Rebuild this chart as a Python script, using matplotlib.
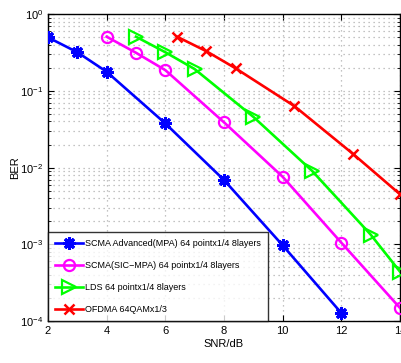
import matplotlib
matplotlib.use("Agg")
import matplotlib.pyplot as plt
from matplotlib.ticker import LogLocator, FixedLocator, NullFormatter

plt.rcParams['font.family'] = ['Liberation Sans', 'DejaVu Sans']
plt.rcParams['mathtext.fontset'] = 'custom'
plt.rcParams['mathtext.rm'] = 'Liberation Sans'

# Data
snr_mpa = [2, 3, 4, 6, 8, 10, 12]
ber_mpa = [0.50, 0.32, 0.178, 0.0377, 0.0069, 0.00097, 1.27e-4]

snr_sic = [4, 5, 6, 8, 10, 12, 14]
ber_sic = [0.51, 0.315, 0.187, 0.039, 0.0076, 0.00105, 1.48e-4]

snr_lds = [5, 6, 7, 9, 11, 13, 14]
ber_lds = [0.51, 0.32, 0.193, 0.046, 0.0091, 0.00134, 4.4e-4]

snr_ofdma = [6.4, 7.4, 8.4, 10.4, 12.4, 14]
ber_ofdma = [0.51, 0.33, 0.197, 0.0635, 0.0151, 0.0045]

labels = ["SCMA Advanced(MPA) 64 pointx1/4 8layers",
          "SCMA(SIC\u2212MPA) 64 pointx1/4 8layers",
          "LDS 64 pointx1/4 8layers",
          "OFDMA 64QAMx1/3"]
xticks = [2, 4, 6, 8, 10, 12, 14]

fig = plt.figure(figsize=(4.02, 3.63), dpi=100)
ax = fig.add_axes([0.1194, 0.1157, 0.8756, 0.8449])

asterisk = (8, 2, 0)
lw = 1.9
ax.semilogy(snr_mpa, ber_mpa, color='#0000ff', lw=lw, marker=asterisk,
            ms=9, mew=2.2, label=labels[0], zorder=3)
ax.semilogy(snr_sic, ber_sic, color='#ff00ff', lw=lw, marker='o', ms=8,
            mfc='none', mew=1.6, label=labels[1], zorder=3)
ax.semilogy(snr_lds, ber_lds, color='#00ff00', lw=lw, marker='>', ms=10,
            mfc='none', mew=1.6, label=labels[2], zorder=3)
ax.semilogy(snr_ofdma, ber_ofdma, color='#ff0000', lw=lw, marker='x', ms=7,
            mew=1.8, label=labels[3], zorder=3)

ax.set_xlim(2, 14)
ax.set_ylim(1e-4, 1)
ax.xaxis.set_major_locator(FixedLocator(xticks))
ax.yaxis.set_major_locator(LogLocator(base=10, numticks=10))
ax.yaxis.set_minor_locator(LogLocator(base=10, subs=range(2, 10), numticks=20))
ax.yaxis.set_minor_formatter(NullFormatter())

ax.grid(True, which='major', axis='both', color='#b0b0b0', ls=(0, (1, 3)), lw=0.9)
ax.grid(True, which='minor', axis='y', color='#b0b0b0', ls=(0, (1, 3)), lw=0.9)

ax.tick_params(which='both', direction='in', top=True, right=True, labelsize=8)
ax.tick_params(which='major', length=4, width=0.8)
ax.tick_params(which='minor', length=2, width=0.6)
for s in ax.spines.values():
    s.set_linewidth(1.0)
    s.set_color('black')

ax.set_xlabel('SNR/dB', fontsize=8, labelpad=2)
ax.set_ylabel('BER', fontsize=8, labelpad=0)

leg = ax.legend(loc='lower left', fontsize=6.5, frameon=True, fancybox=False,
                borderaxespad=0, handlelength=3.1, handletextpad=0.3,
                labelspacing=1.45, borderpad=0.75, edgecolor='black')
leg.get_frame().set_linewidth(1.0)
leg.set_zorder(5)

fig.savefig('out.png', dpi=100)
